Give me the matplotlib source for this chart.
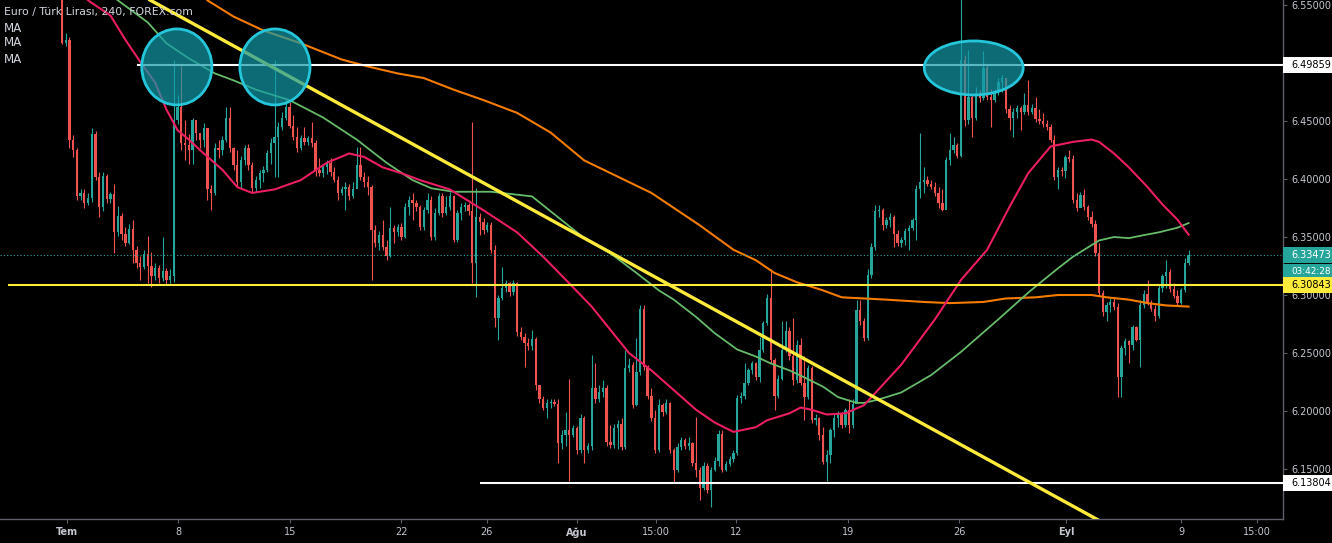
import numpy as np
import matplotlib
matplotlib.use("Agg")
import matplotlib.pyplot as plt
from matplotlib.patches import Ellipse, Rectangle
from matplotlib.transforms import blended_transform_factory

# TradingView dark palette
BG = "#000000"
UP = "#26A69A"
DOWN = "#EF5350"
TXT = "#D1D4DC"
AX_TXT = "#C3C6CE"
AX_LINE = "#5D606B"

# ---- 4h candles (index 0 = first visible bar), open = previous close ----
open0 = 6.561
closes = [
    6.517, 6.520, 6.434, 6.425, 6.385, 6.388, 6.379, 6.384, 6.439, 6.402,
    6.376, 6.403, 6.383, 6.387, 6.354, 6.368, 6.353, 6.345, 6.357, 6.339,
    6.328, 6.324, 6.335, 6.325, 6.316, 6.323, 6.315, 6.321, 6.313, 6.316,
    6.451, 6.462, 6.431, 6.429, 6.425, 6.451, 6.440, 6.434, 6.444, 6.391,
    6.388, 6.427, 6.425, 6.434, 6.453, 6.427, 6.412, 6.397, 6.416, 6.427,
    6.412, 6.392, 6.399, 6.405, 6.408, 6.422, 6.431, 6.436, 6.445, 6.453,
    6.462, 6.446, 6.436, 6.427, 6.435, 6.432, 6.435, 6.431, 6.408, 6.405,
    6.410, 6.414, 6.406, 6.399, 6.388, 6.391, 6.393, 6.385, 6.391, 6.412,
    6.402, 6.397, 6.393, 6.356, 6.345, 6.352, 6.341, 6.334, 6.358, 6.354,
    6.359, 6.350, 6.376, 6.382, 6.379, 6.376, 6.359, 6.373, 6.382, 6.350,
    6.371, 6.385, 6.371, 6.376, 6.385, 6.347, 6.371, 6.376, 6.378, 6.372,
    6.328, 6.367, 6.363, 6.356, 6.360, 6.339, 6.280, 6.297, 6.306, 6.310,
    6.303, 6.310, 6.268, 6.264, 6.259, 6.256, 6.262, 6.222, 6.210, 6.203,
    6.207, 6.208, 6.206, 6.172, 6.179, 6.184, 6.179, 6.185, 6.166, 6.194,
    6.166, 6.170, 6.220, 6.210, 6.216, 6.220, 6.173, 6.171, 6.185, 6.189,
    6.169, 6.237, 6.240, 6.205, 6.234, 6.288, 6.238, 6.213, 6.194, 6.166,
    6.205, 6.199, 6.207, 6.166, 6.149, 6.169, 6.175, 6.170, 6.172, 6.155,
    6.149, 6.134, 6.153, 6.132, 6.149, 6.157, 6.180, 6.149, 6.154, 6.159,
    6.164, 6.211, 6.213, 6.224, 6.235, 6.241, 6.229, 6.253, 6.276, 6.297,
    6.244, 6.213, 6.228, 6.253, 6.269, 6.247, 6.227, 6.257, 6.224, 6.212,
    6.237, 6.192, 6.194, 6.179, 6.156, 6.162, 6.184, 6.194, 6.197, 6.188,
    6.201, 6.188, 6.206, 6.287, 6.278, 6.263, 6.317, 6.341, 6.372, 6.373,
    6.360, 6.365, 6.367, 6.353, 6.345, 6.347, 6.355, 6.358, 6.365, 6.391,
    6.397, 6.399, 6.396, 6.393, 6.388, 6.379, 6.373, 6.416, 6.425, 6.429,
    6.420, 6.503, 6.451, 6.471, 6.453, 6.474, 6.470, 6.496, 6.471, 6.468,
    6.475, 6.484, 6.487, 6.460, 6.453, 6.458, 6.461, 6.458, 6.464, 6.458,
    6.461, 6.452, 6.450, 6.447, 6.445, 6.434, 6.402, 6.408, 6.407, 6.419,
    6.417, 6.382, 6.375, 6.386, 6.376, 6.367, 6.361, 6.336, 6.302, 6.285,
    6.291, 6.294, 6.290, 6.229, 6.254, 6.260, 6.257, 6.272, 6.261, 6.291,
    6.301, 6.293, 6.288, 6.282, 6.306, 6.316, 6.320, 6.305, 6.299, 6.293,
    6.304, 6.328, 6.33473,
]
highs = [
    6.564, 6.526, 6.522, 6.438, 6.427, 6.391, 6.391, 6.388, 6.444, 6.441,
    6.406, 6.406, 6.404, 6.389, 6.396, 6.377, 6.371, 6.359, 6.361, 6.365,
    6.342, 6.334, 6.339, 6.351, 6.337, 6.328, 6.326, 6.350, 6.323, 6.322,
    6.503, 6.472, 6.498, 6.451, 6.439, 6.453, 6.444, 6.439, 6.448, 6.444,
    6.395, 6.431, 6.434, 6.437, 6.462, 6.462, 6.428, 6.425, 6.420, 6.429,
    6.430, 6.415, 6.403, 6.408, 6.411, 6.425, 6.435, 6.503, 6.449, 6.458,
    6.468, 6.466, 6.455, 6.445, 6.438, 6.445, 6.437, 6.449, 6.434, 6.418,
    6.413, 6.416, 6.418, 6.410, 6.403, 6.394, 6.397, 6.396, 6.397, 6.428,
    6.428, 6.406, 6.403, 6.395, 6.360, 6.355, 6.365, 6.347, 6.376, 6.360,
    6.361, 6.362, 6.379, 6.385, 6.388, 6.382, 6.378, 6.376, 6.388, 6.385,
    6.375, 6.388, 6.388, 6.385, 6.389, 6.386, 6.373, 6.379, 6.380, 6.379,
    6.449, 6.392, 6.371, 6.366, 6.363, 6.363, 6.343, 6.300, 6.324, 6.313,
    6.311, 6.313, 6.311, 6.272, 6.267, 6.263, 6.270, 6.264, 6.222, 6.213,
    6.210, 6.210, 6.210, 6.210, 6.184, 6.199, 6.228, 6.188, 6.187, 6.197,
    6.196, 6.172, 6.248, 6.241, 6.222, 6.227, 6.222, 6.188, 6.189, 6.192,
    6.194, 6.253, 6.246, 6.242, 6.263, 6.291, 6.291, 6.240, 6.220, 6.201,
    6.210, 6.207, 6.210, 6.208, 6.168, 6.172, 6.178, 6.177, 6.178, 6.173,
    6.195, 6.152, 6.156, 6.155, 6.152, 6.160, 6.184, 6.184, 6.157, 6.161,
    6.166, 6.214, 6.216, 6.241, 6.237, 6.243, 6.242, 6.264, 6.278, 6.301,
    6.322, 6.246, 6.231, 6.278, 6.278, 6.272, 6.280, 6.261, 6.263, 6.247,
    6.240, 6.239, 6.197, 6.195, 6.186, 6.166, 6.185, 6.197, 6.200, 6.199,
    6.203, 6.210, 6.210, 6.296, 6.296, 6.280, 6.322, 6.345, 6.378, 6.378,
    6.375, 6.367, 6.371, 6.369, 6.356, 6.350, 6.358, 6.360, 6.366, 6.395,
    6.440, 6.410, 6.403, 6.399, 6.397, 6.393, 6.391, 6.419, 6.440, 6.436,
    6.431, 6.556, 6.507, 6.511, 6.472, 6.479, 6.477, 6.510, 6.498, 6.478,
    6.478, 6.487, 6.490, 6.487, 6.464, 6.461, 6.464, 6.463, 6.474, 6.485,
    6.465, 6.471, 6.460, 6.457, 6.451, 6.447, 6.438, 6.410, 6.410, 6.421,
    6.425, 6.421, 6.388, 6.389, 6.391, 6.378, 6.372, 6.365, 6.345, 6.304,
    6.294, 6.297, 6.297, 6.293, 6.257, 6.263, 6.261, 6.274, 6.273, 6.296,
    6.304, 6.313, 6.296, 6.291, 6.309, 6.318, 6.330, 6.322, 6.310, 6.304,
    6.306, 6.332, 6.339,
]
lows = [
    6.516, 6.515, 6.427, 6.419, 6.382, 6.382, 6.375, 6.378, 6.380, 6.399,
    6.367, 6.372, 6.379, 6.379, 6.336, 6.351, 6.347, 6.342, 6.344, 6.328,
    6.323, 6.313, 6.322, 6.310, 6.307, 6.313, 6.310, 6.312, 6.309, 6.310,
    6.311, 6.447, 6.425, 6.416, 6.413, 6.413, 6.434, 6.427, 6.428, 6.382,
    6.373, 6.386, 6.418, 6.421, 6.432, 6.423, 6.408, 6.393, 6.391, 6.412,
    6.408, 6.388, 6.389, 6.392, 6.397, 6.406, 6.413, 6.402, 6.402, 6.442,
    6.451, 6.444, 6.434, 6.423, 6.425, 6.429, 6.429, 6.428, 6.403, 6.403,
    6.402, 6.404, 6.403, 6.397, 6.382, 6.386, 6.373, 6.382, 6.384, 6.392,
    6.399, 6.393, 6.386, 6.313, 6.341, 6.339, 6.339, 6.330, 6.333, 6.345,
    6.351, 6.347, 6.349, 6.369, 6.365, 6.372, 6.356, 6.356, 6.371, 6.347,
    6.347, 6.369, 6.367, 6.369, 6.373, 6.346, 6.346, 6.365, 6.372, 6.369,
    6.310, 6.298, 6.352, 6.353, 6.354, 6.336, 6.272, 6.261, 6.296, 6.303,
    6.299, 6.300, 6.265, 6.261, 6.238, 6.253, 6.253, 6.218, 6.207, 6.201,
    6.194, 6.203, 6.204, 6.155, 6.167, 6.170, 6.140, 6.178, 6.163, 6.164,
    6.155, 6.164, 6.166, 6.207, 6.208, 6.212, 6.170, 6.168, 6.168, 6.167,
    6.166, 6.167, 6.234, 6.203, 6.204, 6.231, 6.235, 6.210, 6.191, 6.164,
    6.165, 6.196, 6.197, 6.164, 6.138, 6.147, 6.166, 6.167, 6.166, 6.153,
    6.143, 6.123, 6.132, 6.129, 6.117, 6.148, 6.153, 6.147, 6.148, 6.153,
    6.156, 6.162, 6.207, 6.210, 6.222, 6.232, 6.227, 6.225, 6.251, 6.274,
    6.241, 6.201, 6.211, 6.227, 6.251, 6.244, 6.222, 6.224, 6.222, 6.192,
    6.210, 6.190, 6.188, 6.175, 6.154, 6.140, 6.155, 6.178, 6.186, 6.185,
    6.186, 6.181, 6.185, 6.216, 6.274, 6.260, 6.261, 6.315, 6.339, 6.367,
    6.356, 6.358, 6.359, 6.341, 6.342, 6.341, 6.343, 6.339, 6.356, 6.347,
    6.384, 6.388, 6.394, 6.391, 6.385, 6.375, 6.372, 6.376, 6.412, 6.422,
    6.418, 6.419, 6.446, 6.447, 6.436, 6.451, 6.466, 6.468, 6.468, 6.445,
    6.466, 6.472, 6.475, 6.457, 6.442, 6.436, 6.453, 6.442, 6.456, 6.455,
    6.456, 6.449, 6.447, 6.445, 6.442, 6.432, 6.399, 6.391, 6.403, 6.401,
    6.415, 6.379, 6.372, 6.377, 6.373, 6.365, 6.359, 6.334, 6.299, 6.282,
    6.278, 6.285, 6.287, 6.212, 6.212, 6.248, 6.241, 6.253, 6.260, 6.238,
    6.289, 6.291, 6.286, 6.278, 6.280, 6.303, 6.306, 6.303, 6.297, 6.291,
    6.292, 6.303, 6.326,
]

# ---- moving averages (bar index, price) ----
ma_red_x = [3, 7, 13, 17, 21, 25, 28, 31, 34, 38, 43, 47, 51, 57, 64, 71, 77, 81, 86, 91,
            96, 104, 113, 122, 129, 136, 142, 147, 152, 158, 164, 170, 175, 180, 186, 189,
            195, 198, 201, 205, 210, 215, 225, 234, 241, 248, 254, 259, 265, 271, 276, 278,
            282, 286, 291, 295, 299, 302]
ma_red = [6.575, 6.554, 6.541, 6.520, 6.501, 6.483, 6.460, 6.442, 6.434, 6.422, 6.408, 6.393,
          6.388, 6.391, 6.399, 6.414, 6.422, 6.419, 6.410, 6.405, 6.399, 6.391, 6.373, 6.354,
          6.333, 6.310, 6.290, 6.270, 6.250, 6.235, 6.218, 6.201, 6.190, 6.182, 6.186, 6.192,
          6.198, 6.203, 6.201, 6.197, 6.198, 6.205, 6.240, 6.279, 6.313, 6.339, 6.376, 6.405,
          6.428, 6.432, 6.434, 6.432, 6.422, 6.410, 6.393, 6.378, 6.365, 6.352]
ma_green_x = [11, 15, 23, 28, 34, 41, 46, 52, 55, 61, 70, 79, 87, 94, 99, 105, 115, 126, 133,
              140, 147, 154, 160, 164, 170, 175, 181, 186, 190, 195, 199, 204, 208, 213, 215,
              219, 225, 233, 241, 251, 259, 262, 267, 271, 275, 278, 282, 286, 289, 294, 299, 302]
ma_green = [6.563, 6.554, 6.535, 6.517, 6.504, 6.491, 6.485, 6.477, 6.474, 6.468, 6.453, 6.434,
            6.414, 6.399, 6.392, 6.389, 6.389, 6.385, 6.367, 6.349, 6.336, 6.319, 6.304, 6.296,
            6.281, 6.267, 6.253, 6.247, 6.241, 6.235, 6.229, 6.221, 6.212, 6.207, 6.207, 6.210,
            6.216, 6.231, 6.251, 6.279, 6.302, 6.310, 6.323, 6.333, 6.341, 6.347, 6.350, 6.349,
            6.351, 6.354, 6.358, 6.362]
ma_orange_x = [36, 39, 46, 54, 64, 75, 82, 90, 97, 105, 113, 122, 131, 140, 149, 158, 171, 180,
               186, 191, 197, 204, 209, 215, 221, 231, 238, 247, 253, 261, 267, 276, 280, 286,
               291, 296, 302]
ma_orange = [6.568, 6.554, 6.540, 6.528, 6.517, 6.503, 6.497, 6.491, 6.487, 6.477, 6.468, 6.457,
             6.440, 6.416, 6.402, 6.388, 6.360, 6.339, 6.330, 6.319, 6.311, 6.304, 6.298, 6.297,
             6.296, 6.294, 6.293, 6.294, 6.297, 6.298, 6.300, 6.300, 6.298, 6.296, 6.293, 6.291,
             6.290]

# ---- drawings ----
trend_x = [23.6, 278.3]
trend_y = [6.5543, 6.1051]
levels = [6.49859, 6.30843, 6.13804]
level_start = [20.1, -14.5, 112.1]
level_color = ["#FFFFFF", "#FFEB3B", "#FFFFFF"]
last_price = 6.33473
countdown = "03:42:28"

tick_idx = [1.3, 31.1, 61.1, 90.9, 113.9, 138.1, 159.2, 180.7, 210.7, 240.5, 269.2, 300.0, 320.4]
tick_lbl = ["Tem", "8", "15", "22", "26", "Ağu", "15:00", "12", "19", "26", "Eyl", "9", "15:00"]
months = {"Tem", "Ağu", "Eyl"}

W, H = 1332, 543
fig = plt.figure(figsize=(W / 100, H / 100), dpi=100, facecolor=BG)
ax = fig.add_axes([0, 24 / H, 1283 / W, 519 / H], facecolor=BG)
ax.set_xlim(-16.6, 327.3)
ax.set_ylim(6.1069, 6.5543)

# candles
n = len(closes)
x = np.arange(n)
c = np.array(closes)
o = np.concatenate([[open0], c[:-1]])
hi = np.array(highs)
lo = np.array(lows)
cols = np.where(c >= o, UP, DOWN)
ax.vlines(x, lo, hi, colors=cols, linewidth=0.8, zorder=2)
ax.bar(x, np.maximum(np.abs(c - o), 0.0008), bottom=np.minimum(o, c), width=0.62,
       color=cols, linewidth=0, zorder=3)

# MAs
ax.plot(ma_orange_x, ma_orange, color="#F57C00", lw=1.5, zorder=4)
ax.plot(ma_green_x, ma_green, color="#66BB6A", lw=1.3, zorder=4)
ax.plot(ma_red_x, ma_red, color="#E91E63", lw=1.5, zorder=4)

# horizontal levels + trend line
for lv, st, col in zip(levels, level_start, level_color):
    ax.plot([st, 327.3], [lv, lv], color=col, lw=1.5, zorder=5, solid_capstyle="butt")
ax.axhline(last_price, color=UP, lw=0.8, ls=(0, (1, 2)), zorder=5)
ax.plot(trend_x, trend_y, color="#FFEB3B", lw=2.4, zorder=5)

# highlighted tops
for cx, cy, ew, eh in [(30.8, 6.4966, 18.8, 0.0655),
                       (57.1, 6.4966, 18.8, 0.0655),
                       (244.4, 6.4957, 26.5, 0.0466)]:
    ax.add_patch(Ellipse((cx, cy), ew, eh, facecolor=(0.07, 0.6, 0.66, 0.7),
                         edgecolor="none", zorder=6))
    ax.add_patch(Ellipse((cx, cy), ew, eh, facecolor="none",
                         edgecolor="#26C6DA", lw=2.0, zorder=7))

# axes styling
for s in ("top", "left"):
    ax.spines[s].set_visible(False)
for s in ("right", "bottom"):
    ax.spines[s].set_color(AX_LINE)
    ax.spines[s].set_linewidth(1.0)
ax.yaxis.tick_right()
ax.set_yticks(np.arange(6.15, 6.5501, 0.05))
ax.set_yticklabels([f"{v:.5f}" for v in np.arange(6.15, 6.5501, 0.05)])
ax.tick_params(axis="y", colors=AX_LINE, labelcolor=AX_TXT, labelsize=7, length=3, pad=3)
ax.set_xticks(tick_idx)
ax.set_xticklabels(tick_lbl)
ax.tick_params(axis="x", colors=AX_LINE, labelcolor=AX_TXT, labelsize=7, length=3, pad=3)
for t in ax.get_xticklabels():
    if t.get_text() in months:
        t.set_fontweight("bold")

# price tags on the scale
bt = blended_transform_factory(ax.transAxes, ax.transData)
tag_w = 49 / 1283
tag_h = 16 / 1160


def tag(price, text, fc, tc, z, fs=7):
    ax.add_patch(Rectangle((1.0, price - tag_h / 2), tag_w, tag_h, transform=bt,
                           facecolor=fc, edgecolor="none", clip_on=False, zorder=z))
    ax.text(1.0 + 8 / 1283, price, text, transform=bt, color=tc, fontsize=fs,
            va="center", ha="left", clip_on=False, zorder=z + 1)


tag(levels[0], f"{levels[0]:.5f}", "#FFFFFF", "#000000", 20)
tag(levels[2], f"{levels[2]:.5f}", "#FFFFFF", "#000000", 20)
tag(last_price, f"{last_price:.5f}", UP, "#FFFFFF", 20)
tag(last_price - 17 / 1160, countdown, UP, "#FFFFFF", 22, fs=6.4)
tag(levels[1], f"{levels[1]:.5f}", "#FFEB3B", "#000000", 24)

# legend text
fig.text(4 / W, 1 - 12 / H, "Euro / Türk Lirası, 240, FOREX.com", color=TXT,
         fontsize=7.8, va="center", ha="left")
for yy in [28, 43, 59]:
    fig.text(4 / W, 1 - yy / H, "MA", color=TXT, fontsize=8.6, va="center", ha="left")

fig.savefig("out.png", dpi=100, facecolor=BG)
